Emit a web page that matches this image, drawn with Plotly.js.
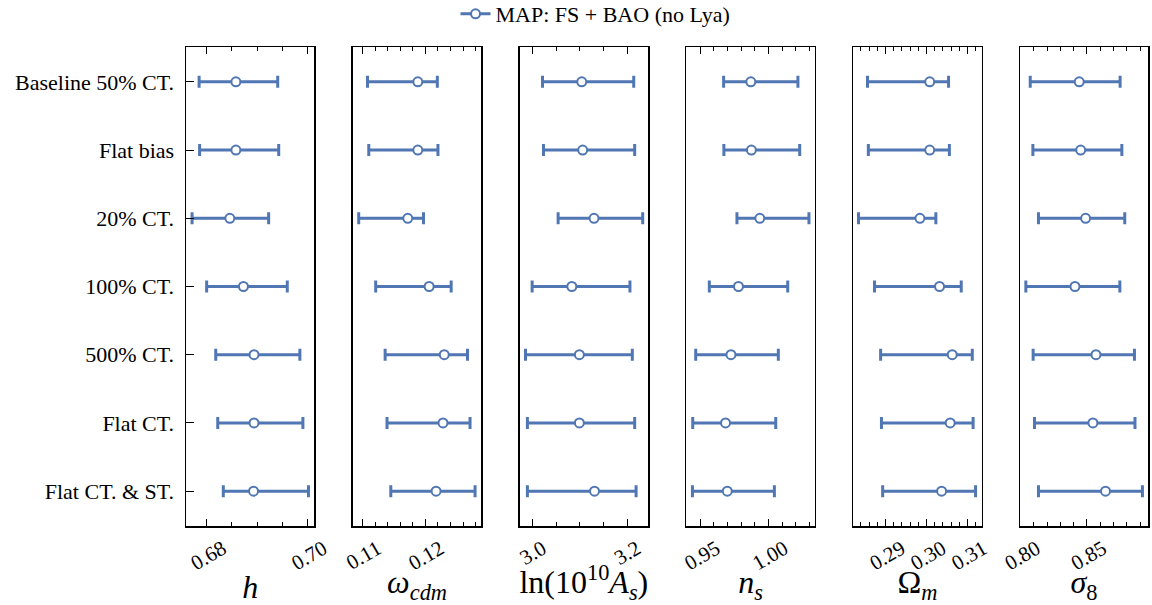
<!DOCTYPE html>
<html><head><meta charset="utf-8">
<script src="https://cdn.plot.ly/plotly-3.0.1.min.js"></script>
<style>html,body{margin:0;padding:0;background:#fff}</style>
</head><body><div id="chart" style="width:1152px;height:605px"></div>
<script>
// ---------- data ----------
const categories = ["Baseline 50% CT.", "Flat bias", "20% CT.", "100% CT.", "500% CT.", "Flat CT.", "Flat CT. & ST."];
const seriesName = "MAP: FS + BAO (no Lya)";

const h_best = [0.6858, 0.6858, 0.6846, 0.6873, 0.6894, 0.6894, 0.6893];
const h_lo   = [0.6785, 0.6786, 0.6771, 0.6800, 0.6818, 0.6822, 0.6833];
const h_hi   = [0.6941, 0.6943, 0.6923, 0.6960, 0.6985, 0.6991, 0.7002];

const wcdm_best = [0.1188, 0.1188, 0.1172, 0.1206, 0.1230, 0.1228, 0.1217];
const wcdm_lo   = [0.1108, 0.1110, 0.1094, 0.1121, 0.1136, 0.1139, 0.1145];
const wcdm_hi   = [0.1219, 0.1220, 0.1197, 0.1241, 0.1267, 0.1271, 0.1279];

const lnAs_best = [3.104, 3.106, 3.130, 3.083, 3.099, 3.099, 3.131];
const lnAs_lo   = [3.021, 3.023, 3.054, 2.999, 2.985, 2.989, 2.989];
const lnAs_hi   = [3.214, 3.216, 3.233, 3.206, 3.211, 3.216, 3.219];

const ns_best = [0.9871, 0.9875, 0.9937, 0.9780, 0.9725, 0.9685, 0.9698];
const ns_lo   = [0.9671, 0.9673, 0.9769, 0.9566, 0.9466, 0.9444, 0.9442];
const ns_hi   = [1.0217, 1.0230, 1.0298, 1.0142, 1.0073, 1.0054, 1.0044];

const Om_best = [0.3008, 0.3008, 0.2984, 0.3032, 0.3063, 0.3058, 0.3037];
const Om_lo   = [0.2856, 0.2858, 0.2834, 0.2873, 0.2888, 0.2890, 0.2893];
const Om_hi   = [0.3054, 0.3056, 0.3023, 0.3085, 0.3112, 0.3114, 0.3120];

const s8_best = [0.8442, 0.8453, 0.8490, 0.8410, 0.8568, 0.8545, 0.8640];
const s8_lo   = [0.8073, 0.8093, 0.8135, 0.8040, 0.8095, 0.8105, 0.8135];
const s8_hi   = [0.8750, 0.8763, 0.8785, 0.8748, 0.8858, 0.8862, 0.8918];

const paramTitles = ["<i>h</i>", "<i>ω</i><sub><i>cdm</i></sub>", "ln(10<sup>10</sup><i>A</i><sub><i>s</i></sub>)",
                     "<i>n</i><sub><i>s</i></sub>", "Ω<sub><i>m</i></sub>", "<i>σ</i><sub>8</sub>"];

// ---------- panel settings (axes) ----------
const panels = [
  {best: h_best,    lo: h_lo,    hi: h_hi,    range: [0.6759, 0.7014], tick0: 0.68, dtick: 0.02, minor: 0.005, fmt: ".2f", shift: 16},
  {best: wcdm_best, lo: wcdm_lo, hi: wcdm_hi, range: [0.10846, 0.12889], tick0: 0.11, dtick: 0.01, minor: 0.002, fmt: ".2f", shift: 15},
  {best: lnAs_best, lo: lnAs_lo, hi: lnAs_hi, range: [2.9725, 3.2444], tick0: 3.0, dtick: 0.2, minor: 0.05, fmt: ".1f", shift: 10},
  {best: ns_best,   lo: ns_lo,   hi: ns_hi,   range: [0.93976, 1.03417], tick0: 0.95, dtick: 0.05, minor: 0.01, fmt: ".2f", shift: 16},
  {best: Om_best,   lo: Om_lo,   hi: Om_hi,   range: [0.2821, 0.3135], tick0: 0.29, dtick: 0.01, minor: 0.002, fmt: ".2f", shift: 16},
  {best: s8_best,   lo: s8_lo,   hi: s8_hi,   range: [0.7996, 0.8960], tick0: 0.80, dtick: 0.05, minor: 0.01, fmt: ".2f", shift: 16}
];

const COLOR = "#5077B3";
const FONT = "Liberation Serif";
const step = 0.17339, width = 0.13357;

const traces = [];
const layout = {
  width: 1152, height: 605,
  margin: {l: 186, r: 4, t: 47, b: 79, autoexpand: false},
  paper_bgcolor: "#fff", plot_bgcolor: "#fff",
  font: {family: FONT, color: "#000", size: 20},
  showlegend: true,
  legend: {x: 0.4257, xanchor: "center", y: 1.1127, yanchor: "top", orientation: "h",
           font: {family: FONT, size: 22, color: "#000"}, bgcolor: "rgba(0,0,0,0)"}
};

panels.forEach((p, i) => {
  const n = i + 1;
  const xa = n === 1 ? "x" : "x" + n;
  const ya = n === 1 ? "y" : "y" + n;
  traces.push({
    type: "scatter", mode: "markers",
    x: p.best, y: categories, xaxis: xa, yaxis: ya,
    showlegend: false, name: seriesName,
    marker: {symbol: "circle", size: 9, color: "#fff", line: {color: COLOR, width: 2}},
    error_x: {type: "data", symmetric: false,
              array: p.hi.map((v, k) => v - p.best[k]),
              arrayminus: p.best.map((v, k) => v - p.lo[k]),
              color: COLOR, thickness: 3, width: 6},
    hoverinfo: "x+y"
  });
  const d0 = i * step, d1 = Math.min(1, d0 + width);
  layout["xaxis" + (n === 1 ? "" : n)] = {
    domain: [d0, d1], anchor: ya, range: p.range,
    tickmode: "linear", tick0: p.tick0, dtick: p.dtick, tickformat: p.fmt,
    ticks: "inside", ticklen: 7, tickwidth: 1, tickcolor: "#000",
    minor: {tickmode: "linear", tick0: p.tick0, dtick: p.minor, ticks: "inside", ticklen: 4, tickwidth: 1, tickcolor: "#000", showgrid: false},
    showline: true, linecolor: "#000", linewidth: 1.5, mirror: "allticks",
    showgrid: false, zeroline: false,
    tickangle: -30, ticklabelshift: p.shift, ticklabelstandoff: 1,
    tickfont: {family: FONT, size: 21, color: "#000"},
    title: {text: paramTitles[i], font: {family: FONT, size: 32, color: "#000"}, standoff: 6},
    fixedrange: true
  };
  layout["yaxis" + (n === 1 ? "" : n)] = {
    domain: [0, 1], anchor: xa, type: "category", categoryarray: categories, categoryorder: "array",
    range: [6.51, -0.51],
    ticks: n === 1 ? "inside" : "", ticklen: 8, tickwidth: 1, tickcolor: "#000",
    showticklabels: n === 1, ticklabelstandoff: 6,
    tickfont: {family: FONT, size: 22, color: "#000"},
    showline: true, linecolor: "#000", linewidth: 1.5, mirror: true,
    showgrid: false, zeroline: false, fixedrange: true
  };
  if (n > 1) layout["yaxis" + n].matches = "y";
});

// legend-only entry (line + open marker)
traces.push({
  type: "scatter", mode: "lines+markers", x: [null], y: [null], xaxis: "x", yaxis: "y",
  name: seriesName, showlegend: true,
  line: {color: COLOR, width: 3},
  marker: {symbol: "circle", size: 9, color: "#fff", line: {color: COLOR, width: 2}}
});

Plotly.newPlot("chart", traces, layout, {displayModeBar: false, responsive: false, staticPlot: true});
</script>
</body></html>
